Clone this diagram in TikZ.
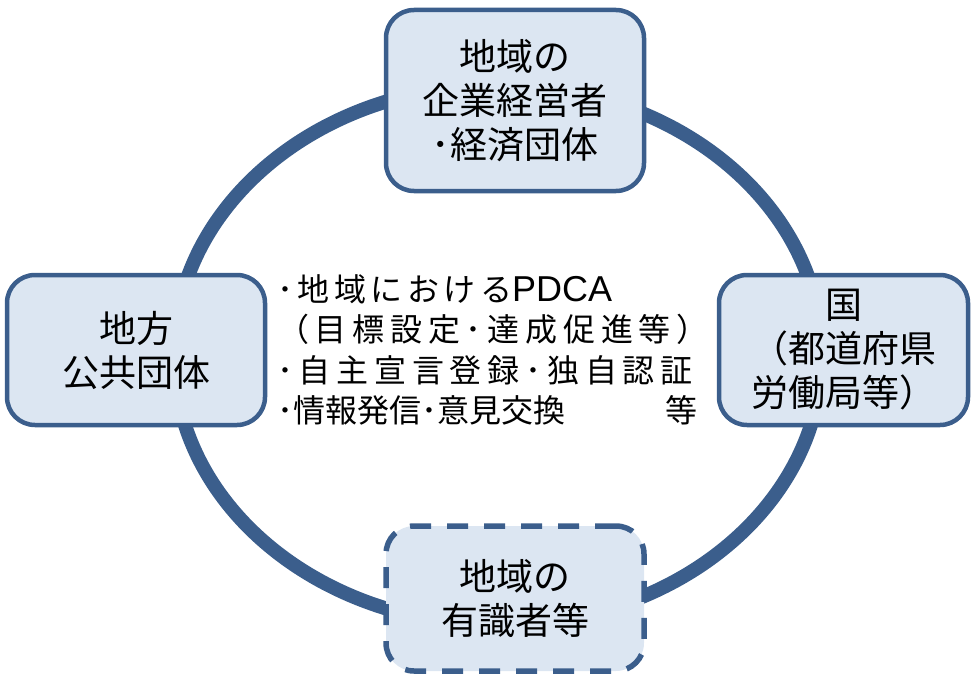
\documentclass[tikz,border=0pt]{standalone}
\usepackage{fontspec}
\setmainfont{Noto Sans CJK JP}
\newfontfamily\latinfont{Liberation Sans}
\definecolor{ringblue}{RGB}{59,94,140}
\definecolor{boxfill}{RGB}{220,230,242}
\tikzset{
  actorbox/.style={draw=ringblue, fill=boxfill, line width=4.5pt, rounded corners=28pt,
    align=center, inner sep=0pt, text=black, font=\fontsize{37}{44}\selectfont},
  dashbox/.style={actorbox, line width=5.5pt, dash pattern=on 21pt off 16pt},
  ring/.style={draw=ringblue, line width=14pt},
  listtext/.style={anchor=west, text width=420pt, align=left, inner sep=0pt,
    font=\fontsize{32}{40.5}\selectfont}
}
\begin{document}
\begin{tikzpicture}[x=1pt,y=-1pt]
\useasboundingbox (0,0) rectangle (972,677);
\draw[ring] (498,355) ellipse [x radius=324, y radius=270];
\node[actorbox, minimum width=258pt, minimum height=181pt] (biz) at (515,100.5)
  {地域の\\企業経営者\\･経済団体};
\node[actorbox, minimum width=258pt, minimum height=150pt] (local) at (136,350)
  {地方\\公共団体};
\node[actorbox, minimum width=249pt, minimum height=150pt] (gov) at (843.5,350)
  {国\\（都道府県\\労働局等）};
\node[dashbox, minimum width=258pt, minimum height=145pt] (expert) at (515,598.5)
  {地域の\\有識者等};
\node[listtext] (list) at (277,350)
  {{\addfontfeature{LetterSpace=14}･地域における}{\latinfont\fontsize{36}{40.5}\selectfont PDCA}\\
   {\addfontfeature{LetterSpace=18}（目標設定･達成促進等）}\\
   {\addfontfeature{LetterSpace=18}･自主宣言登録･独自認証}\\
   ･情報発信･意見交換\hfill 等};
\end{tikzpicture}
\end{document}
